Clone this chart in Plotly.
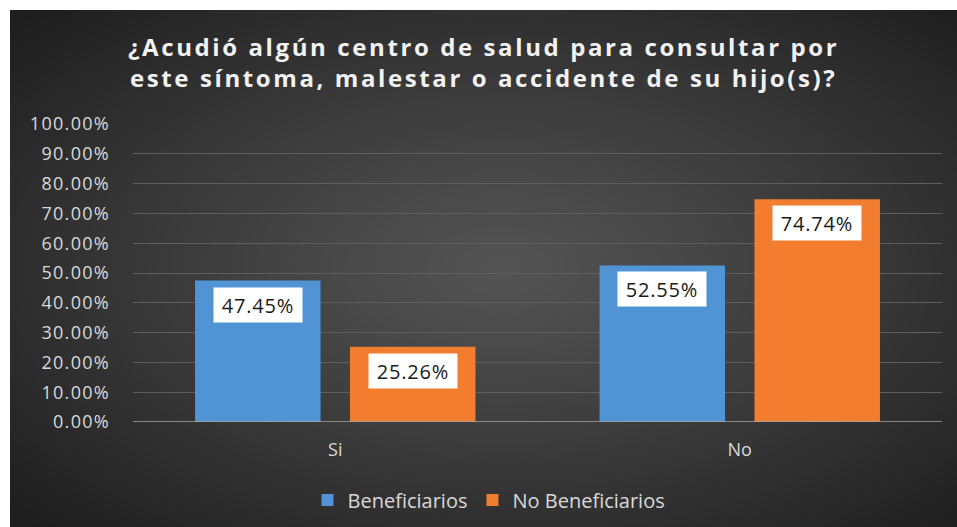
import base64, struct, zlib
import numpy as np
import plotly.graph_objects as go

# ---- data ----
categories = ["Si", "No"]
series_names = ["Beneficiarios", "No Beneficiarios"]
beneficiarios = [0.4745, 0.5255]
no_beneficiarios = [0.2526, 0.7474]
y_ticks = [i / 10 for i in range(11)]
title_lines = ["¿Acudió algún centro de salud para consultar por",
               "este síntoma, malestar o accidente de su hijo(s)?"]

# ---- style ----
W, H = 957, 527
ML, MR, MT, MB = 133, 15, 124, 105
PW, PH = W - ML - MR, H - MT - MB
BARGAP, BARGROUPGAP = 0.234, 0.19
colors = ["#5094d6", "#f27d2e"]
txt = "#d9d9d9"
FONT = "Open Sans"


def sp(s, ls):
    return f'<span style="letter-spacing:{ls}px">{s}</span>'


def px_to_paper(xpx, ypx):
    return (xpx - ML) / PW, 1 + (MT - ypx) / PH


def png_uri(arr):
    h, w, _ = arr.shape
    raw = b"".join(b"\x00" + arr[r].tobytes() for r in range(h))

    def chunk(tag, data):
        return (struct.pack(">I", len(data)) + tag + data +
                struct.pack(">I", zlib.crc32(tag + data) & 0xFFFFFFFF))
    png = (b"\x89PNG\r\n\x1a\n" +
           chunk(b"IHDR", struct.pack(">IIBBBBB", w, h, 8, 2, 0, 0, 0)) +
           chunk(b"IDAT", zlib.compress(raw, 9)) + chunk(b"IEND", b""))
    return "data:image/png;base64," + base64.b64encode(png).decode()


# radial gradient background for the chart area
BX0, BY0 = 10, 10
BW, BH = W - BX0, H - BY0
yy, xx = np.mgrid[0:BH, 0:BW]
d = np.sqrt(((xx - BW * 0.52) / (BW * 0.5)) ** 2 + ((yy - BH * 0.5) / (BH * 0.5)) ** 2) / np.sqrt(2)
d = np.clip(d, 0, 1) ** 1.1
c = (84 + (30 - 84) * d).astype(np.uint8)
bg = np.dstack([c, c, c])

fig = go.Figure()
for name, vals, col in zip(series_names, [beneficiarios, no_beneficiarios], colors):
    fig.add_trace(go.Bar(x=categories, y=vals, name=name, marker=dict(color=col, line_width=0)))

# data labels
cat_px = PW / len(categories)
slot = cat_px * (1 - BARGAP) / 2
for k, vals in enumerate([beneficiarios, no_beneficiarios]):
    for cat, v in zip(categories, vals):
        fig.add_annotation(x=cat, y=v, xref="x", yref="y", text=sp(f"{v*100:.2f}%", 0.8),
                           showarrow=False, yanchor="top", yshift=-6,
                           xshift=(k - 0.5) * slot,
                           width=82, height=28, align="center", valign="middle",
                           bgcolor="white", borderpad=3,
                           font=dict(family=FONT, size=20, color="#1a1a1a"))

# title (two centred lines)
for i, line in enumerate(title_lines):
    tx, ty = px_to_paper((W + BX0) / 2, 46 + 32 * i)
    fig.add_annotation(x=tx, y=ty, xref="paper", yref="paper", showarrow=False,
                       xanchor="center", yanchor="middle",
                       text=sp(line, 2.6),
                       font=dict(family=FONT, size=24, color="#f2f2f2", weight="bold"))

ix, iy = px_to_paper(BX0, BY0)
fig.add_layout_image(dict(source=png_uri(bg), xref="paper", yref="paper",
                          x=ix, y=iy, sizex=BW / PW, sizey=BH / PH, sizing="stretch",
                          xanchor="left", yanchor="top", layer="below"))

lx, ly = px_to_paper(489, 500)
fig.update_layout(
    width=W, height=H, autosize=False,
    margin=dict(l=ML, r=MR, t=MT, b=MB, autoexpand=False),
    paper_bgcolor="white", plot_bgcolor="rgba(0,0,0,0)",
    barmode="group", bargap=BARGAP, bargroupgap=BARGROUPGAP,
    font=dict(family=FONT, color=txt),
    showlegend=True,
    legend=dict(orientation="h", x=lx, xanchor="center", y=ly, yanchor="middle",
                font=dict(family=FONT, size=20, color=txt),
                bgcolor="rgba(0,0,0,0)", itemsizing="constant"),
    xaxis=dict(showline=False, ticks="", automargin=False,
               tickfont=dict(family=FONT, size=18, color=txt), ticklabelstandoff=15,
               showgrid=False, fixedrange=True),
    yaxis=dict(range=[0, 1], tickvals=y_ticks, automargin=False,
               ticktext=[sp(f"{t*100:.2f}%", 1.3) for t in y_ticks],
               showgrid=True, gridcolor="#5e5e5e", gridwidth=1, zeroline=False,
               ticks="", tickfont=dict(family=FONT, size=18, color=txt),
               ticklabelstandoff=22, showline=False, fixedrange=True),
)
fig.add_shape(type="line", xref="paper", yref="y", x0=0, x1=1, y0=0, y1=0,
              line=dict(color="#a6a6a6", width=1.5))

fig.write_html("out.html", config={"displayModeBar": False},
               post_script="document.body.style.margin='0';")
